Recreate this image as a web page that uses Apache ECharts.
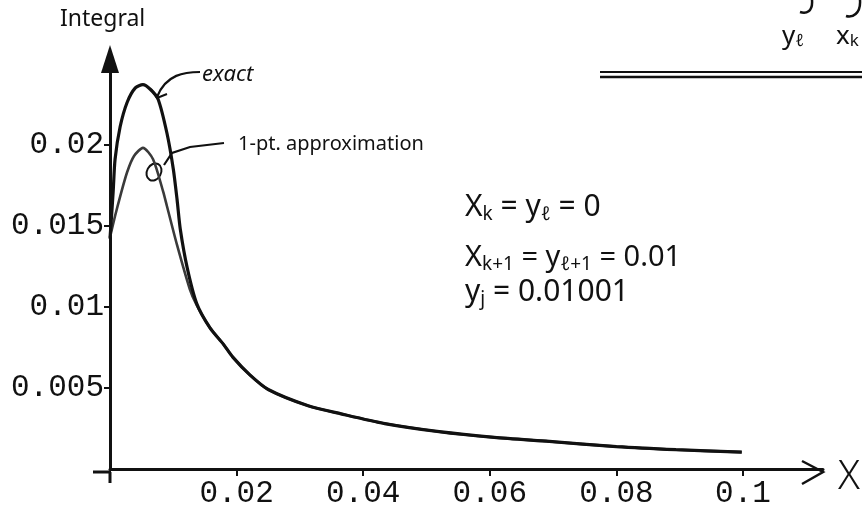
<!DOCTYPE html>
<html>
<head>
<meta charset="utf-8">
<script src="https://cdn.jsdelivr.net/npm/echarts@6/dist/echarts.min.js"></script>
<style>
  html, body { margin: 0; padding: 0; background: #fff; }
  #chart { width: 862px; height: 509px; }
</style>
</head>
<body>
<div id="chart"></div>
<script>
  // rising part near the peak
  var exactX = [0, 0.0005, 0.0008, 0.0016, 0.0027, 0.004, 0.0052, 0.0064, 0.0076, 0.009, 0.01, 0.0106, 0.0111, 0.0122, 0.0137];
  var exactY = [0.0142, 0.0171, 0.0191, 0.0211, 0.0226, 0.0235, 0.0237, 0.0234, 0.0228, 0.0207, 0.0185, 0.0166, 0.0148, 0.0124, 0.0102];

  var approxX = [0, 0.0008, 0.0016, 0.0027, 0.0038, 0.0052, 0.0068, 0.0084, 0.009, 0.0106, 0.0126, 0.0137];
  var approxY = [0.0143, 0.0156, 0.0168, 0.0183, 0.0193, 0.0198, 0.0191, 0.0171, 0.0162, 0.0138, 0.0111, 0.0101];

  // both curves are on top of each other from here on
  var tailX = [0.0158, 0.0179, 0.0194, 0.0221, 0.025, 0.0313, 0.0365, 0.0434, 0.052, 0.0607, 0.0694, 0.08, 0.0894, 0.0998];
  var tailY = [0.0087, 0.0077, 0.0069, 0.0058, 0.0049, 0.0039, 0.0034, 0.0028, 0.0023, 0.00195, 0.0017, 0.00138, 0.00119, 0.00104];

  var xTicks = [0.02, 0.04, 0.06, 0.08, 0.1];
  var yTicks = [0.005, 0.01, 0.015, 0.02];

  function pairs(xs, ys) {
    return xs.map(function (x, i) { return [x, ys[i]]; });
  }

  var chartDom = document.getElementById('chart');
  var myChart = echarts.init(chartDom, null, { renderer: 'canvas' });

  var hand = 'Noto Sans';
  var mono = 'Liberation Mono';

  var option = {
    backgroundColor: '#fff',
    animation: false,
    grid: { left: 110, right: 39, top: 59, bottom: 37 },
    xAxis: {
      type: 'value',
      min: 0,
      max: 0.11264,
      splitLine: { show: false },
      axisLine: { onZero: false, lineStyle: { color: '#111', width: 3 } },
      axisTick: { customValues: xTicks, length: 7, lineStyle: { color: '#111', width: 2 } },
      axisLabel: {
        customValues: xTicks,
        margin: 9,
        color: '#111',
        fontFamily: mono,
        fontSize: 31
      }
    },
    yAxis: {
      type: 'value',
      min: 0,
      max: 0.02528,
      splitLine: { show: false },
      axisLine: {
        lineStyle: { color: '#111', width: 3 },
        symbol: ['none', 'triangle'],
        symbolSize: [18, 28]
      },
      axisTick: { customValues: yTicks, length: 6, lineStyle: { color: '#111', width: 2 } },
      axisLabel: {
        customValues: yTicks,
        margin: 6,
        color: '#111',
        fontFamily: mono,
        fontSize: 31
      }
    },
    series: [
      {
        name: '1-pt. approximation',
        type: 'line',
        showSymbol: false,
        smooth: 0.25,
        lineStyle: { color: '#3a3a3a', width: 2.6 },
        data: pairs(approxX.concat(tailX), approxY.concat(tailY))
      },
      {
        name: 'exact',
        type: 'line',
        showSymbol: false,
        smooth: 0.25,
        lineStyle: { color: '#111', width: 3.2 },
        data: pairs(exactX.concat(tailX), exactY.concat(tailY))
      }
    ],
    graphic: [
      // axis stubs and open arrow on x
      { type: 'line', shape: { x1: 93, y1: 472, x2: 111, y2: 472 }, style: { stroke: '#111', lineWidth: 3 } },
      { type: 'line', shape: { x1: 110, y1: 472, x2: 110, y2: 483 }, style: { stroke: '#111', lineWidth: 3 } },
      { type: 'polyline', shape: { points: [[802, 461], [823, 472], [802, 484]] }, style: { stroke: '#111', lineWidth: 2.5, fill: null } },
      { type: 'text', left: 838, top: 458, style: { text: 'X', font: '300 40px "' + hand + '"', fill: '#111' } },

      { type: 'text', left: 60, top: 8, style: { text: 'Integral', font: '23px "' + hand + '"', fill: '#111' } },

      { type: 'text', left: 202, top: 64, style: { text: 'exact', font: 'italic 22px "' + hand + '"', fill: '#111' } },
      { type: 'bezierCurve', shape: { x1: 157, y1: 97, x2: 200, y2: 72, cpx1: 166, cpy1: 74, cpx2: 185, cpy2: 72 }, style: { stroke: '#111', lineWidth: 2.2, fill: null } },
      { type: 'polyline', shape: { points: [[151, 89], [157, 98], [167, 94]] }, style: { stroke: '#111', lineWidth: 2, fill: null } },

      { type: 'text', left: 238, top: 134, style: { text: '1-pt. approximation', font: '20px "' + hand + '"', fill: '#111' } },
      { type: 'polyline', shape: { points: [[224, 143], [190, 147], [172, 153], [164, 165]] }, style: { stroke: '#111', lineWidth: 2.2, fill: null } },
      { type: 'ellipse', shape: { cx: 154, cy: 172, rx: 7, ry: 9 }, rotation: -0.5, originX: 154, originY: 172, style: { stroke: '#111', lineWidth: 2, fill: null } },

      {
        type: 'text', left: 465, top: 192,
        style: {
          text: 'X{s|k} = y{s|ℓ} = 0',
          font: '30px "' + hand + '"', fill: '#111',
          rich: { s: { fontSize: 19, fontFamily: hand, padding: [16, 0, 0, 0] } }
        }
      },
      {
        type: 'text', left: 465, top: 243,
        style: {
          text: 'X{s|k+1} = y{s|ℓ+1} = 0.01',
          font: '29px "' + hand + '"', fill: '#111',
          rich: { s: { fontSize: 19, fontFamily: hand, padding: [14, 0, 0, 0] } }
        }
      },
      {
        type: 'text', left: 465, top: 277,
        style: {
          text: 'y{s|j} = 0.01001',
          font: '30px "' + hand + '"', fill: '#111',
          rich: { s: { fontSize: 19, fontFamily: hand, padding: [16, 0, 0, 0] } }
        }
      },

      // bits of the page above the plot
      { type: 'bezierCurve', shape: { x1: 812, y1: 0, x2: 800, y2: 12, cpx1: 813, cpy1: 12, cpx2: 806, cpy2: 14 }, style: { stroke: '#111', lineWidth: 2.5, fill: null } },
      { type: 'bezierCurve', shape: { x1: 860, y1: 0, x2: 846, y2: 16, cpx1: 861, cpy1: 14, cpx2: 852, cpy2: 18 }, style: { stroke: '#111', lineWidth: 2.5, fill: null } },
      {
        type: 'text', left: 782, top: 24,
        style: { text: 'y{s|ℓ}', font: '26px "' + hand + '"', fill: '#111', rich: { s: { fontSize: 17, fontFamily: hand, padding: [8, 0, 0, 0] } } }
      },
      {
        type: 'text', left: 836, top: 24,
        style: { text: 'x{s|k}', font: '26px "' + hand + '"', fill: '#111', rich: { s: { fontSize: 17, fontFamily: hand, padding: [8, 0, 0, 0] } } }
      },
      { type: 'line', shape: { x1: 600, y1: 72, x2: 862, y2: 72 }, style: { stroke: '#111', lineWidth: 2 } },
      { type: 'line', shape: { x1: 600, y1: 77, x2: 862, y2: 77 }, style: { stroke: '#111', lineWidth: 2.5 } }
    ]
  };

  if (option && typeof option === 'object') {
    myChart.setOption(option);
  }

  window.addEventListener('resize', myChart.resize);
</script>
</body>
</html>
